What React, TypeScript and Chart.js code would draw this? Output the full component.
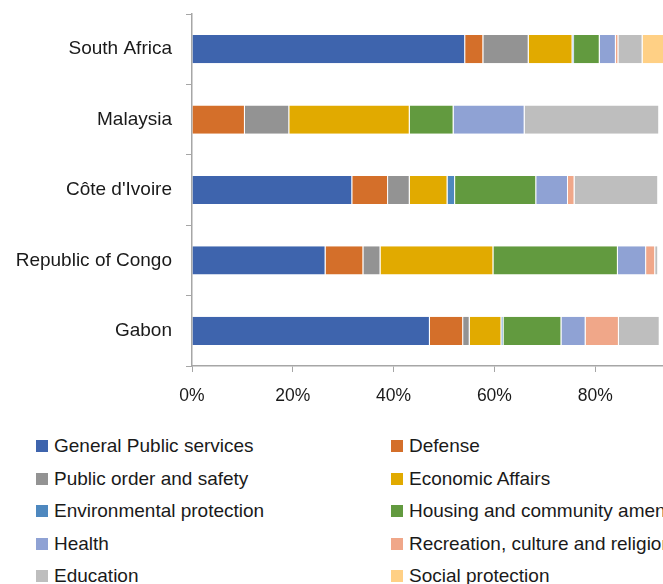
import React, { useEffect, useRef } from "react";
import { Chart, registerables } from "chart.js";

Chart.register(...registerables);

const categories = ["South Africa", "Malaysia", "Côte d'Ivoire", "Republic of Congo", "Gabon"];

const seriesNames = [
  "General Public services",
  "Defense",
  "Public order and safety",
  "Economic Affairs",
  "Environmental protection",
  "Housing and community amenities",
  "Health",
  "Recreation, culture and religion",
  "Education",
  "Social protection",
];

const generalPublic = [54.2, 0, 31.8, 26.5, 47.2];
const defense = [3.6, 10.5, 7.1, 7.5, 6.6];
const publicOrder = [9.0, 8.8, 4.3, 3.4, 1.3];
const economicAffairs = [8.7, 23.9, 7.5, 22.4, 6.3];
const environmental = [0.3, 0, 1.5, 0, 0.4];
const housing = [5.1, 8.7, 16.1, 24.7, 11.5];
const health = [3.2, 14.1, 6.3, 5.6, 4.8];
const recreation = [0.5, 0, 1.3, 1.8, 6.6];
const education = [4.8, 26.7, 16.6, 0.6, 8.1];
const socialProtection = [10.6, 0, 0, 0, 0];

const xTicks = [0, 20, 40, 60, 80, 100];

const seriesValues = [
  generalPublic,
  defense,
  publicOrder,
  economicAffairs,
  environmental,
  housing,
  health,
  recreation,
  education,
  socialProtection,
];

const seriesColors = [
  "#3E64AD",
  "#D46F2A",
  "#939393",
  "#E1AA00",
  "#4E88BF",
  "#629A3F",
  "#8FA2D4",
  "#F0A789",
  "#BEBEBE",
  "#FFD085",
];

const FONT = "'Liberation Sans', Arial, sans-serif";
const TEXT = "#1a1a1a";
const AXIS = "#A6A6A6";

export default function App() {
  const ref = useRef<HTMLCanvasElement | null>(null);

  useEffect(() => {
    if (!ref.current) return;
    const chart = new Chart(ref.current, {
      type: "bar",
      data: {
        labels: categories,
        datasets: seriesNames.map((name, i) => ({
          label: name,
          data: seriesValues[i],
          backgroundColor: seriesColors[i],
          borderColor: "rgba(255,255,255,0.7)",
          borderWidth: { top: 0, bottom: 0, left: 0, right: 1 },
          borderSkipped: false,
          categoryPercentage: 0.8,
          barPercentage: 0.5,
        })),
      },
      options: {
        indexAxis: "y",
        animation: false,
        responsive: false,
        maintainAspectRatio: false,
        layout: { padding: { top: 14, right: 64, left: 0, bottom: 0 } },
        plugins: {
          legend: { display: false },
          tooltip: { enabled: false },
        },
        scales: {
          x: {
            stacked: true,
            min: 0,
            max: 100,
            afterBuildTicks: (scale: any) => {
              scale.ticks = xTicks.map((v) => ({ value: v }));
            },
            afterFit: (scale: any) => {
              scale.height = 54;
              scale.paddingLeft = 0;
            },
            ticks: {
              callback: (v: any) => v + "%",
              color: TEXT,
              font: { family: FONT, size: 17.5 },
              padding: 14,
              maxRotation: 0,
            },
            grid: {
              drawOnChartArea: false,
              drawTicks: true,
              tickLength: 6,
              color: AXIS,
            },
            border: { color: AXIS, width: 1.5 },
          },
          y: {
            stacked: true,
            afterFit: (scale: any) => {
              scale.width = 192;
              scale.paddingTop = 0;
              scale.paddingBottom = 0;
            },
            ticks: {
              color: TEXT,
              font: { family: FONT, size: 19 },
              padding: 14,
            },
            grid: {
              offset: true,
              drawOnChartArea: false,
              drawTicks: true,
              tickLength: 6,
              color: AXIS,
            },
            border: { color: AXIS, width: 1.5 },
          },
        },
      },
    });
    return () => chart.destroy();
  }, []);

  return (
    <div
      style={{
        position: "absolute",
        left: 0,
        top: 0,
        width: 663,
        height: 584,
        overflow: "hidden",
        background: "#fff",
      }}
    >
      <canvas
        ref={ref}
        width={760}
        height={420}
        style={{ position: "absolute", left: 0, top: 0, width: 760, height: 420 }}
      />
      {seriesNames.map((name, i) => {
        const col = i % 2;
        const row = Math.floor(i / 2);
        const cy = 446 + row * 32.5;
        const left = col === 0 ? 36 : 391;
        return (
          <div
            key={name}
            style={{
              position: "absolute",
              left,
              top: cy - 12,
              height: 24,
              display: "flex",
              alignItems: "center",
              whiteSpace: "nowrap",
              fontFamily: FONT,
              fontSize: 19,
              color: TEXT,
            }}
          >
            <span
              style={{
                display: "inline-block",
                width: 12,
                height: 12,
                background: seriesColors[i],
                marginRight: 6,
              }}
            />
            <span>{name}</span>
          </div>
        );
      })}
    </div>
  );
}
